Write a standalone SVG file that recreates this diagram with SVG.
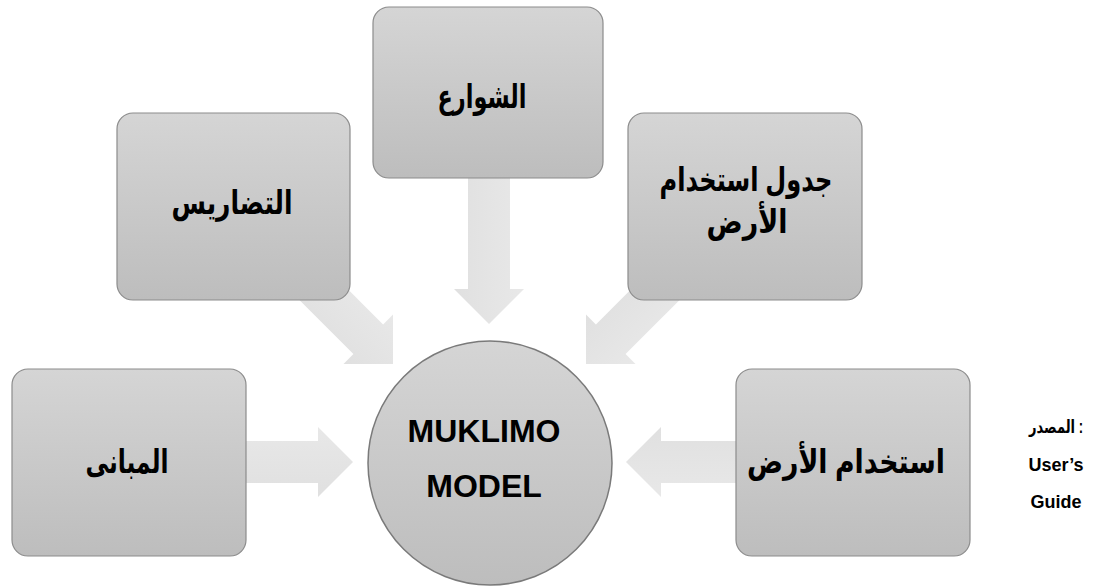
<svg xmlns="http://www.w3.org/2000/svg" width="1093" height="588" viewBox="0 0 1093 588">
  <defs>
    <linearGradient id="boxFill" x1="0" y1="0" x2="0" y2="1">
      <stop offset="0" stop-color="#d5d5d5"/>
      <stop offset="1" stop-color="#bdbdbd"/>
    </linearGradient>
    <linearGradient id="arrowFill" x1="0" y1="0" x2="0" y2="1">
      <stop offset="0" stop-color="#e8e8e8"/>
      <stop offset="1" stop-color="#e0e0e0"/>
    </linearGradient>
    <!-- block arrow pointing right, tip at the origin -->
    <path id="blockArrow" d="M -150,-21 H -35 V -35 L 0,0 L -35,35 V 21 H -150 Z"/>
  </defs>
  <style>
    .box { fill: url(#boxFill); stroke: #8c8c8c; stroke-width: 1.2; }
    .hub { fill: url(#boxFill); stroke: #7a7a7a; stroke-width: 1.5; }
    .arrow { fill: url(#arrowFill); stroke: none; }
    .ar { font-family: "Liberation Sans", "DejaVu Sans", sans-serif; font-weight: bold; font-size: 33px; fill: #000; text-anchor: middle; }
    .en { font-family: "Liberation Sans", Arial, sans-serif; font-weight: bold; font-size: 32px; fill: #000; text-anchor: middle; }
    .src { font-family: "Liberation Sans", "DejaVu Sans", sans-serif; font-weight: bold; font-size: 18px; fill: #000; text-anchor: middle; }
  </style>

  <rect width="1093" height="588" fill="#ffffff"/>

  <!-- connectors: block arrows feeding the model -->
  <g id="connectors">
    <use href="#blockArrow" class="arrow" transform="translate(353,462)"/>
    <use href="#blockArrow" class="arrow" transform="translate(626,462) rotate(180)"/>
    <use href="#blockArrow" class="arrow" transform="translate(489,324) rotate(90)"/>
    <use href="#blockArrow" class="arrow" transform="translate(393,364) rotate(45)"/>
    <use href="#blockArrow" class="arrow" transform="translate(586,364) rotate(135)"/>
  </g>

  <g id="node-streets">
    <rect class="box" x="373" y="7" width="230" height="171" rx="16"/>
    <text class="ar" x="482" y="108" textLength="89" lengthAdjust="spacingAndGlyphs">الشوارع</text>
  </g>

  <g id="node-terrain">
    <rect class="box" x="117" y="113" width="233" height="187" rx="16"/>
    <text class="ar" x="232" y="214" textLength="121" lengthAdjust="spacingAndGlyphs">التضاريس</text>
  </g>

  <g id="node-landuse-table">
    <rect class="box" x="628" y="113" width="234" height="187" rx="16"/>
    <text class="ar" x="746" y="191" textLength="173" lengthAdjust="spacingAndGlyphs">جدول استخدام</text>
    <text class="ar" x="747" y="233" textLength="81" lengthAdjust="spacingAndGlyphs">الأرض</text>
  </g>

  <g id="node-buildings">
    <rect class="box" x="12" y="369" width="234" height="187" rx="16"/>
    <text class="ar" x="127" y="473" textLength="83" lengthAdjust="spacingAndGlyphs">المبانى</text>
  </g>

  <g id="node-landuse">
    <rect class="box" x="736" y="369" width="234" height="187" rx="16"/>
    <text class="ar" x="846" y="473" textLength="198" lengthAdjust="spacingAndGlyphs">استخدام الأرض</text>
  </g>

  <g id="node-model">
    <circle class="hub" cx="490" cy="463" r="122"/>
    <text class="en" x="484" y="442">MUKLIMO</text>
    <text class="en" x="484" y="497">MODEL</text>
  </g>

  <g id="source-note">
    <text class="src" x="1056" y="433" textLength="54" lengthAdjust="spacingAndGlyphs">المصدر :</text>
    <text class="src" x="1056" y="471">User’s</text>
    <text class="src" x="1056" y="508">Guide</text>
  </g>
</svg>
